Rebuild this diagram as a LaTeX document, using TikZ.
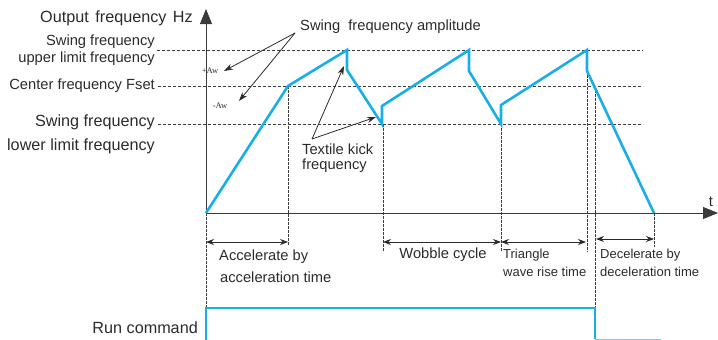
\documentclass[tikz,border=0pt]{standalone}
\usepackage{fontspec}
\setmainfont{Liberation Sans}
\newfontfamily\serifsmall{Liberation Serif}
\usetikzlibrary{arrows.meta}
\definecolor{wave}{HTML}{19AEE6}
\definecolor{txt}{HTML}{2B2B2B}
\definecolor{ln}{HTML}{3A3A3A}
\begin{document}
\begin{tikzpicture}[x=1pt,y=-1pt,
  lbl/.style={inner sep=0pt,text=txt,font=\fontsize{14.7}{17}\selectfont},
  lblS/.style={inner sep=0pt,text=txt,font=\fontsize{13}{15}\selectfont},
  lblL/.style={inner sep=0pt,text=txt,font=\fontsize{16.2}{19}\selectfont},
  small/.style={inner sep=0pt,text=txt,font=\serifsmall\fontsize{8.5}{10}\selectfont},
  axis/.style={draw=ln,line width=0.8pt},
  guide/.style={draw=ln,line width=0.7pt,dash pattern=on 3pt off 2pt},
  vguide/.style={draw=ln,line width=0.6pt,dash pattern=on 2.5pt off 1.5pt},
  wavel/.style={draw=wave,line width=2.6pt,line join=miter},
  pointer/.style={draw=txt,line width=0.8pt,-{Stealth[length=9pt,width=6pt]}},
  span/.style={draw=txt,line width=0.8pt,{Stealth[length=8pt,width=6pt]}-{Stealth[length=8pt,width=6pt]}}]
\useasboundingbox (0,0) rectangle (718,340);
% axes
\coordinate (O) at (206,213);
\coordinate (Ytop) at (206,9);
\coordinate (Xend) at (718,213);
\draw[axis,-{Triangle[length=15pt,width=12pt]}] (O) -- (Ytop);
\draw[axis,-{Triangle[length=15pt,width=12pt]}] (O) -- (Xend);
\node[lbl,anchor=south] (t) at (711,207) {t};
\node[lblL,anchor=east] (ylab) at (193,18) {Output\hspace{2pt} frequency\hspace{2pt} Hz};
% horizontal guides
\coordinate (U0) at (157,50); \coordinate (U1) at (643,50);
\coordinate (C0) at (158,86); \coordinate (C1) at (643,86);
\coordinate (L0) at (158,124); \coordinate (L1) at (643,124);
\draw[guide] (U0) -- (U1);
\draw[guide] (C0) -- (C1);
\draw[guide] (L0) -- (L1);
% left labels
\node[lbl,anchor=east] (up1) at (155,42) {Swing frequency};
\node[lbl,anchor=east] (up2) at (155,59) {upper limit frequency};
\node[lbl,anchor=east] (cen) at (155,86) {Center frequency Fset};
\node[lblL,anchor=east] (lo1) at (155,122) {Swing frequency};
\node[lblL,anchor=east] (lo2) at (155,146) {lower limit frequency};
% waveform points
\coordinate (w0) at (206,213);
\coordinate (w1) at (288,86);
\coordinate (w2) at (347,50);
\coordinate (w3) at (347,70);
\coordinate (w4) at (382,124);
\coordinate (w5) at (382,106);
\coordinate (w6) at (469,50);
\coordinate (w7) at (469,71);
\coordinate (w8) at (501,124);
\coordinate (w9) at (501,105);
\coordinate (w10) at (587,50);
\coordinate (w11) at (587,71);
\coordinate (w12) at (654,213);
% vertical guides
\coordinate (g1b) at (288,245);
\coordinate (g0b) at (206,308);
\coordinate (g2t) at (383,124); \coordinate (g2b) at (383,252);
\coordinate (g3b) at (501,252);
\coordinate (g4b) at (587,252);
\coordinate (g5t) at (595,86); \coordinate (g5b) at (595,308);
\coordinate (g6b) at (654,247);
\draw[vguide] (w1) -- (g1b);
\draw[vguide] (w0) -- (g0b);
\draw[vguide] (g2t) -- (g2b);
\draw[vguide] (w8) -- (g3b);
\draw[vguide] (w11) -- (g4b);
\draw[vguide] (g5t) -- (g5b);
\draw[vguide] (w12) -- (g6b);
% waveform
\draw[wavel] (w0) -- (w1) -- (w2) -- (w3) -- (w4) -- (w5) -- (w6) -- (w7) -- (w8) -- (w9) -- (w10) -- (w11) -- (w12);
% amplitude annotation
\node[lbl,anchor=west] (amp) at (300,27) {Swing\ \ frequency amplitude};
\coordinate (ampS) at (295,33);
\node[small] (pAw) at (210,71) {+Aw};
\node[small] (mAw) at (220,106) {-Aw};
\coordinate (pAwT) at (224,71);
\coordinate (mAwT) at (239,101);
\draw[pointer] (ampS) -- (pAwT);
\draw[pointer] (ampS) -- (mAwT);
% textile kick
\node[lbl,anchor=west] (tk1) at (302,149) {Textile kick};
\node[lbl,anchor=west] (tk2) at (302,166) {frequency};
\coordinate (tkS) at (312,139);
\coordinate (tkA) at (344,66);
\coordinate (tkB) at (376,117);
\draw[pointer] (tkS) -- (tkA);
\draw[pointer] (tkS) -- (tkB);
% spans
\coordinate (s1a) at (206,242); \coordinate (s1b) at (288,242);
\coordinate (s2a) at (383,242); \coordinate (s2b) at (501,242);
\coordinate (s3a) at (501,242); \coordinate (s3b) at (586,242);
\coordinate (s4a) at (596,239); \coordinate (s4b) at (654,239);
\draw[span] (s1a) -- (s1b);
\draw[span] (s2a) -- (s2b);
\draw[span] (s3a) -- (s3b);
\draw[span] (s4a) -- (s4b);
\node[lbl,anchor=west] (acc1) at (219,257) {Accelerate by};
\node[lbl,anchor=west] (acc2) at (220,277) {acceleration time};
\node[lbl] (wob) at (443,255) {Wobble cycle};
\node[lblS,anchor=west] (tri1) at (503,255) {Triangle};
\node[lblS,anchor=west] (tri2) at (503,272) {wave rise time};
\node[lblS,anchor=west] (dec1) at (600,255) {Decelerate by};
\node[lblS,anchor=west] (dec2) at (600,272) {deceleration time};
% run command
\node[lblL,anchor=east] (run) at (198,328) {Run command};
\coordinate (r0) at (206,341);
\coordinate (r1) at (206,308);
\coordinate (r2) at (595,308);
\coordinate (r3) at (595,339);
\coordinate (r4) at (661,339);
\draw[wavel] (r0) -- (r1) -- (r2) -- (r3);
\draw[draw=wave!60,line width=1pt] (r3) -- (r4);
\end{tikzpicture}
\end{document}
